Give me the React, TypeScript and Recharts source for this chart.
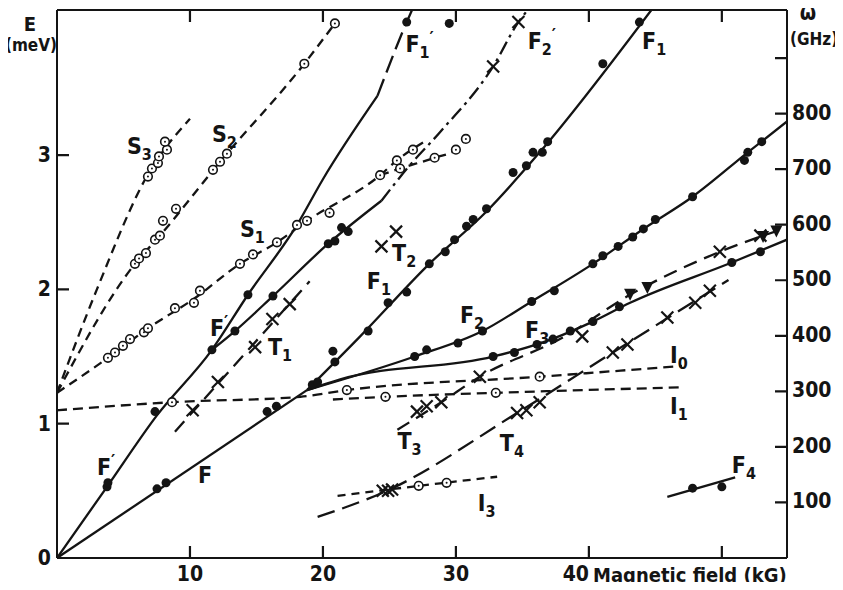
import React from 'react';
import { ComposedChart, Line, Scatter, XAxis, YAxis, ReferenceDot } from 'recharts';

type Pt = [number, number];

// field in kG, energy in meV
const lineS3: Pt[] = [[0, 1.23], [3.0, 2.0], [6.8, 2.85], [10.0, 3.27]];
const lineS2: Pt[] = [[0, 1.23], [5.86, 2.19], [7.74, 2.4], [12.26, 2.95], [18.6, 3.68], [20.9, 3.98]];
const lineS1: Pt[] = [[0, 1.23], [3.83, 1.49], [6.84, 1.71], [10.3, 1.93], [13.76, 2.19], [16.54, 2.35], [18.8, 2.51], [24.3, 2.85], [25.56, 2.96], [27.8, 3.11]];
const lineS1b: Pt[] = [[24.3, 2.85], [25.8, 2.9], [28.4, 2.98], [30.0, 3.04], [30.75, 3.12]];

const lineI0: Pt[] = [[0, 1.1], [8.65, 1.16], [18.3, 1.2], [21.8, 1.25], [36.3, 1.35], [47.0, 1.43]];
const lineI1: Pt[] = [[20.75, 1.18], [24.7, 1.2], [33.0, 1.23], [46.8, 1.27]];
const lineI3: Pt[] = [[21.1, 0.463], [27.2, 0.537], [33.1, 0.605]];

const lineT1: Pt[] = [[8.87, 0.94], [19.0, 2.06]];
const lineT3: Pt[] = [[25.6, 0.955], [28.9, 1.16], [31.8, 1.35], [38.0, 1.64], [43.1, 1.96], [49.85, 2.28], [54.9, 2.46]];
const lineT4: Pt[] = [[19.6, 0.306], [24.8, 0.5], [34.6, 1.08], [41.8, 1.53], [50.5, 2.07]];

const lineF: Pt[] = [[0, 0], [18.8, 1.25]];
const lineFp: Pt[] = [[0, 0], [3.76, 0.53], [7.5, 1.06], [11.65, 1.55], [14.36, 1.96], [18.05, 2.48], [20.0, 2.82], [24.1, 3.44]];
const lineF1p: Pt[] = [[24.1, 3.44], [26.3, 3.99], [26.7, 4.08]];
const lineFpLow: Pt[] = [[11.65, 1.55], [13.38, 1.69], [16.24, 1.95], [20.4, 2.34], [24.4, 2.66]];
const lineF2p: Pt[] = [[24.4, 2.66], [26.5, 2.92], [28.8, 3.17], [32.8, 3.66], [34.7, 3.99], [35.4, 4.08]];
const lineF1: Pt[] = [[18.8, 1.25], [22.8, 1.65], [28.0, 2.19], [32.3, 2.58], [36.3, 3.02], [44.7, 4.08]];
const lineF2: Pt[] = [[18.8, 1.25], [26.9, 1.5], [32.0, 1.69], [35.7, 1.91], [40.3, 2.19], [44.1, 2.45], [47.8, 2.69], [51.95, 3.02], [54.9, 3.25]];
const lineF3: Pt[] = [[18.8, 1.25], [21.3, 1.33], [32.8, 1.5], [36.1, 1.59], [40.3, 1.76], [43.1, 1.9], [50.75, 2.2], [54.9, 2.37]];
const lineF4: Pt[] = [[45.9, 0.455], [51.0, 0.6]];

// measured points
const dotsF: Pt[] = [[7.52, 0.515], [8.2, 0.56], [15.8, 1.09], [16.5, 1.13], [19.2, 1.29], [19.6, 1.31]];
const dotsFp: Pt[] = [[3.76, 0.53], [3.83, 0.56], [7.37, 1.09], [11.65, 1.55], [14.36, 1.96], [26.3, 3.99], [29.5, 3.98]];
const dotsFpLow: Pt[] = [[13.38, 1.69], [16.24, 1.95], [20.4, 2.34], [20.9, 2.36], [21.4, 2.46], [21.9, 2.43]];
const dotsF1: Pt[] = [[20.75, 1.54], [20.9, 1.46], [23.4, 1.69], [24.9, 1.9], [26.3, 1.98], [28.0, 2.19], [29.2, 2.28], [29.9, 2.37], [30.8, 2.47], [31.3, 2.52], [32.3, 2.6], [34.3, 2.87], [35.3, 2.92], [35.8, 3.02], [36.5, 3.02], [36.9, 3.1], [41.05, 3.68], [43.8, 3.99]];
const dotsF2: Pt[] = [[26.9, 1.5], [27.8, 1.55], [30.15, 1.6], [32.0, 1.69], [35.7, 1.91], [37.4, 1.99], [40.3, 2.19], [41.05, 2.25], [42.2, 2.32], [43.3, 2.39], [44.1, 2.45], [45.0, 2.52], [47.8, 2.69], [51.7, 2.96], [51.95, 3.02], [53.0, 3.1]];
const dotsF3: Pt[] = [[32.8, 1.5], [34.4, 1.53], [36.1, 1.59], [37.3, 1.63], [38.6, 1.69], [40.3, 1.76], [42.3, 1.87], [50.75, 2.2], [52.9, 2.28]];
const dotsF4: Pt[] = [[47.8, 0.52], [50.0, 0.53]];

const circS3: Pt[] = [[6.84, 2.84], [7.14, 2.9], [7.59, 2.94], [7.67, 2.99], [8.27, 3.04], [8.12, 3.1]];
const circS2: Pt[] = [[5.86, 2.19], [6.17, 2.23], [6.69, 2.27], [7.37, 2.37], [7.74, 2.4], [7.97, 2.51], [8.95, 2.6], [11.73, 2.89], [12.26, 2.95], [12.78, 3.01], [18.6, 3.68], [20.9, 3.98]];
const circS1: Pt[] = [[3.83, 1.49], [4.36, 1.53], [4.96, 1.58], [5.49, 1.63], [6.54, 1.68], [6.84, 1.71], [8.87, 1.86], [10.3, 1.9], [10.75, 1.99], [13.76, 2.19], [14.74, 2.26], [16.54, 2.35], [18.05, 2.48], [18.8, 2.51], [20.5, 2.57], [24.3, 2.85], [25.56, 2.96], [26.77, 3.04], [25.8, 2.9], [28.4, 2.98], [30.0, 3.04], [30.75, 3.12]];
const circI: Pt[] = [[8.65, 1.16], [21.8, 1.25], [36.3, 1.35], [24.7, 1.2], [33.0, 1.23], [27.2, 0.537], [29.3, 0.56]];

const crossT1: Pt[] = [[10.2, 1.1], [12.1, 1.31], [14.9, 1.57], [16.2, 1.78], [17.5, 1.89]];
const crossT2: Pt[] = [[24.4, 2.32], [25.5, 2.43]];
const crossT3: Pt[] = [[27.07, 1.09], [27.8, 1.13], [28.9, 1.16], [31.8, 1.35], [39.5, 1.65], [49.85, 2.28], [52.9, 2.4]];
const crossT4: Pt[] = [[24.5, 0.5], [24.9, 0.5], [25.2, 0.51], [34.6, 1.08], [35.3, 1.1], [36.3, 1.16], [41.8, 1.53], [42.9, 1.59], [45.9, 1.79], [48.0, 1.9], [49.1, 1.99]];
const crossF2p: Pt[] = [[32.8, 3.66], [34.7, 3.99]];
const triT3: Pt[] = [[43.1, 1.96], [44.4, 2.01], [53.1, 2.39], [54.1, 2.43]];

const eTicks = [0, 1, 2, 3];
const ghzTicks = [100, 200, 300, 400, 500, 600, 700, 800, 900];
const kgTicks = [10, 20, 30, 40, 50];

const curveLabels = [
  { text: 'S', sub: '3', prime: false, x: 5.26, y: 3.01 },
  { text: 'S', sub: '2', prime: false, x: 11.65, y: 3.1 },
  { text: 'S', sub: '1', prime: false, x: 13.76, y: 2.39 },
  { text: 'F', sub: '', prime: true, x: 11.5, y: 1.65 },
  { text: 'T', sub: '1', prime: false, x: 15.86, y: 1.515 },
  { text: 'F', sub: '', prime: true, x: 3.0, y: 0.62 },
  { text: 'F', sub: '', prime: false, x: 10.6, y: 0.56 },
  { text: 'T', sub: '2', prime: false, x: 25.2, y: 2.21 },
  { text: 'F', sub: '1', prime: false, x: 23.3, y: 2.0 },
  { text: 'F', sub: '2', prime: false, x: 30.3, y: 1.75 },
  { text: 'F', sub: '3', prime: false, x: 35.2, y: 1.64 },
  { text: 'I', sub: '0', prime: false, x: 46.1, y: 1.45 },
  { text: 'I', sub: '1', prime: false, x: 46.1, y: 1.075 },
  { text: 'T', sub: '3', prime: false, x: 25.6, y: 0.81 },
  { text: 'T', sub: '4', prime: false, x: 33.3, y: 0.8 },
  { text: 'I', sub: '3', prime: false, x: 31.65, y: 0.35 },
  { text: 'F', sub: '4', prime: false, x: 50.75, y: 0.63 },
  { text: 'F', sub: '1', prime: true, x: 26.2, y: 3.77 },
  { text: 'F', sub: '2', prime: true, x: 35.4, y: 3.79 },
  { text: 'F', sub: '1', prime: false, x: 44.0, y: 3.79 },
];

const INK = '#141414';
const FONT = "'DejaVu Sans Condensed', 'DejaVu Sans', sans-serif";
const W = 843;
const H = 590;
const PLOT_TOP = 10;
const PLOT_LEFT = 57;
const PLOT_RIGHT = 787;
const PLOT_BOTTOM = 558;
const KG_MAX = 54.9;
const E_MAX = 4.08;
const GHZ_MAX = 986.5;
const TICK = 12;

// same linear mapping as the axes, for the frame's inward tick marks
const kgPx = (v: number) => PLOT_LEFT + (v / KG_MAX) * (PLOT_RIGHT - PLOT_LEFT);
const ePx = (v: number) => PLOT_BOTTOM - (v / E_MAX) * (PLOT_BOTTOM - PLOT_TOP);
const ghzPx = (v: number) => PLOT_BOTTOM - (v / GHZ_MAX) * (PLOT_BOTTOM - PLOT_TOP);

const frameTicks = [
  `M${PLOT_LEFT},${PLOT_TOP}H${PLOT_RIGHT}`,
  ...eTicks.filter((v) => v > 0).map((v) => `M${PLOT_LEFT},${ePx(v)}h${TICK}`),
  ...ghzTicks.map((v) => `M${PLOT_RIGHT},${ghzPx(v)}h${-TICK}`),
  ...kgTicks.map((v) => `M${kgPx(v)},${PLOT_BOTTOM}v${-TICK}`),
  ...kgTicks.map((v) => `M${kgPx(v)},${PLOT_TOP}v${TICK}`),
].join('');

const rows = (pts: Pt[]) => pts.map(([x, y]) => ({ x, y }));
const axisStroke = { stroke: INK, strokeWidth: 2 };

const FilledDot = (p: any) => <circle cx={p.cx} cy={p.cy} r={4.5} fill={INK} />;
const OpenDot = (p: any) => (
  <g>
    <circle cx={p.cx} cy={p.cy} r={4.3} fill="#fff" stroke={INK} strokeWidth={1.6} />
    <circle cx={p.cx} cy={p.cy} r={1} fill={INK} />
  </g>
);
const Cross = (p: any) => {
  const s = 6;
  return (
    <g stroke={INK} strokeWidth={2.2}>
      <line x1={p.cx - s} y1={p.cy - s} x2={p.cx + s} y2={p.cy + s} />
      <line x1={p.cx - s} y1={p.cy + s} x2={p.cx + s} y2={p.cy - s} />
    </g>
  );
};
const TriDown = (p: any) => (
  <path d={`M${p.cx - 6},${p.cy - 6}L${p.cx + 6},${p.cy - 6}L${p.cx},${p.cy + 6}Z`} fill={INK} />
);

const leftLabel = (p: any) => (
  <text x={51} y={p.y + 7} textAnchor="end" fontSize={21} fontWeight={600} fontFamily={FONT} fill={INK}>
    {p.payload.value}
  </text>
);
const rightLabel = (p: any) =>
  p.payload.value < 900 ? (
    <text x={792} y={p.y + 6} fontSize={21} fontWeight={600} fontFamily={FONT} fill={INK}>
      {p.payload.value}
    </text>
  ) : (
    <g />
  );
const bottomLabel = (p: any) =>
  p.payload.value < 50 ? (
    <text
      x={p.payload.value === 40 ? p.x - 13 : p.x}
      y={581}
      textAnchor="middle"
      fontSize={21}
      fontWeight={600}
      fontFamily={FONT}
      fill={INK}
    >
      {p.payload.value}
    </text>
  ) : (
    <g />
  );

const CurveLabel = ({ cx, cy, lab }: any) => (
  <text x={cx} y={cy} fontSize={23} fontWeight={600} fontFamily={FONT} fill={INK}>
    {lab.text}
    {lab.sub && (
      <tspan fontSize={16} dy={6}>
        {lab.sub}
      </tspan>
    )}
    {lab.prime && (
      <tspan fontSize={18} dy={lab.sub ? -14 : -8}>
        ′
      </tspan>
    )}
  </text>
);

const curve = (pts: Pt[], key: string, dash?: string, kind: 'monotone' | 'linear' = 'monotone', width = 2.3) => (
  <Line
    key={key}
    xAxisId="kg"
    yAxisId="mev"
    data={rows(pts)}
    dataKey="y"
    type={kind}
    stroke={INK}
    strokeWidth={width}
    strokeDasharray={dash}
    dot={false}
    activeDot={false}
    isAnimationActive={false}
  />
);

const marks = (pts: Pt[], key: string, shape: any) => (
  <Scatter
    key={key}
    xAxisId="kg"
    yAxisId="mev"
    data={rows(pts)}
    dataKey="y"
    shape={shape}
    isAnimationActive={false}
  />
);

export default function App() {
  return (
    <div style={{ margin: -8, position: 'relative', width: W, height: H, background: '#fff' }}>
      <ComposedChart width={W} height={H} margin={{ top: PLOT_TOP, right: 0, bottom: 0, left: 0 }}>
        <XAxis
          xAxisId="kg"
          type="number"
          dataKey="x"
          domain={[0, KG_MAX]}
          ticks={kgTicks}
          allowDataOverflow
          height={H - PLOT_BOTTOM}
          tickLine={false}
          tick={bottomLabel}
          axisLine={axisStroke}
        />
        <YAxis
          yAxisId="mev"
          type="number"
          dataKey="y"
          domain={[0, E_MAX]}
          ticks={eTicks}
          allowDataOverflow
          width={PLOT_LEFT}
          tickLine={false}
          tick={leftLabel}
          axisLine={axisStroke}
        />
        <YAxis
          yAxisId="ghz"
          orientation="right"
          type="number"
          domain={[0, GHZ_MAX]}
          ticks={ghzTicks}
          allowDataOverflow
          width={W - PLOT_RIGHT}
          tickLine={false}
          tick={rightLabel}
          axisLine={axisStroke}
        />

        {curve(lineS3, 's3', '9 6')}
        {curve(lineS2, 's2', '9 6')}
        {curve(lineS1, 's1', '9 6')}
        {curve(lineS1b, 's1b', '9 6')}
        {curve(lineI0, 'i0', '10 6')}
        {curve(lineI1, 'i1', '10 6')}
        {curve(lineI3, 'i3', '8 6')}
        {curve(lineT1, 't1', '14 8', 'linear')}
        {curve(lineT3, 't3', '14 8')}
        {curve(lineT4, 't4', '18 8')}
        {curve(lineF, 'f', undefined, 'linear')}
        {curve(lineFp, 'fp')}
        {curve(lineF1p, 'f1p', '18 7')}
        {curve(lineFpLow, 'fplow')}
        {curve(lineF2p, 'f2p', '14 5 3 5')}
        {curve(lineF1, 'f1')}
        {curve(lineF2, 'f2')}
        {curve(lineF3, 'f3')}
        {curve(lineF4, 'f4', undefined, 'linear')}

        {marks(circS3, 'cs3', OpenDot)}
        {marks(circS2, 'cs2', OpenDot)}
        {marks(circS1, 'cs1', OpenDot)}
        {marks(circI, 'ci', OpenDot)}
        {marks(dotsF, 'df', FilledDot)}
        {marks(dotsFp, 'dfp', FilledDot)}
        {marks(dotsFpLow, 'dfpl', FilledDot)}
        {marks(dotsF1, 'df1', FilledDot)}
        {marks(dotsF2, 'df2', FilledDot)}
        {marks(dotsF3, 'df3', FilledDot)}
        {marks(dotsF4, 'df4', FilledDot)}
        {marks(crossT1, 'xt1', Cross)}
        {marks(crossT2, 'xt2', Cross)}
        {marks(crossT3, 'xt3', Cross)}
        {marks(crossT4, 'xt4', Cross)}
        {marks(crossF2p, 'xf2p', Cross)}
        {marks(triT3, 'tt3', TriDown)}

        {curveLabels.map((lab, i) => (
          <ReferenceDot
            key={'lab' + i}
            xAxisId="kg"
            yAxisId="mev"
            x={lab.x}
            y={lab.y}
            r={0}
            shape={(p: any) => <CurveLabel cx={p.cx} cy={p.cy} lab={lab} />}
          />
        ))}
      </ComposedChart>

      <svg
        width={W}
        height={H}
        style={{ position: 'absolute', left: 0, top: 0, pointerEvents: 'none' }}
        fontFamily={FONT}
        fontWeight={600}
        fill={INK}
      >
        <path d={frameTicks} fill="none" stroke={INK} strokeWidth={2.2} />
        <text x={30} y={31} textAnchor="middle" fontSize={20}>E</text>
        <text x={31} y={51} textAnchor="middle" fontSize={17}>(meV)</text>
        <text x={808} y={20} textAnchor="middle" fontSize={21}>ω</text>
        <text x={790} y={45} fontSize={17}>(GHz)</text>
        <text x={593} y={582} fontSize={20}>Magnetic field (kG)</text>
      </svg>
    </div>
  );
}
